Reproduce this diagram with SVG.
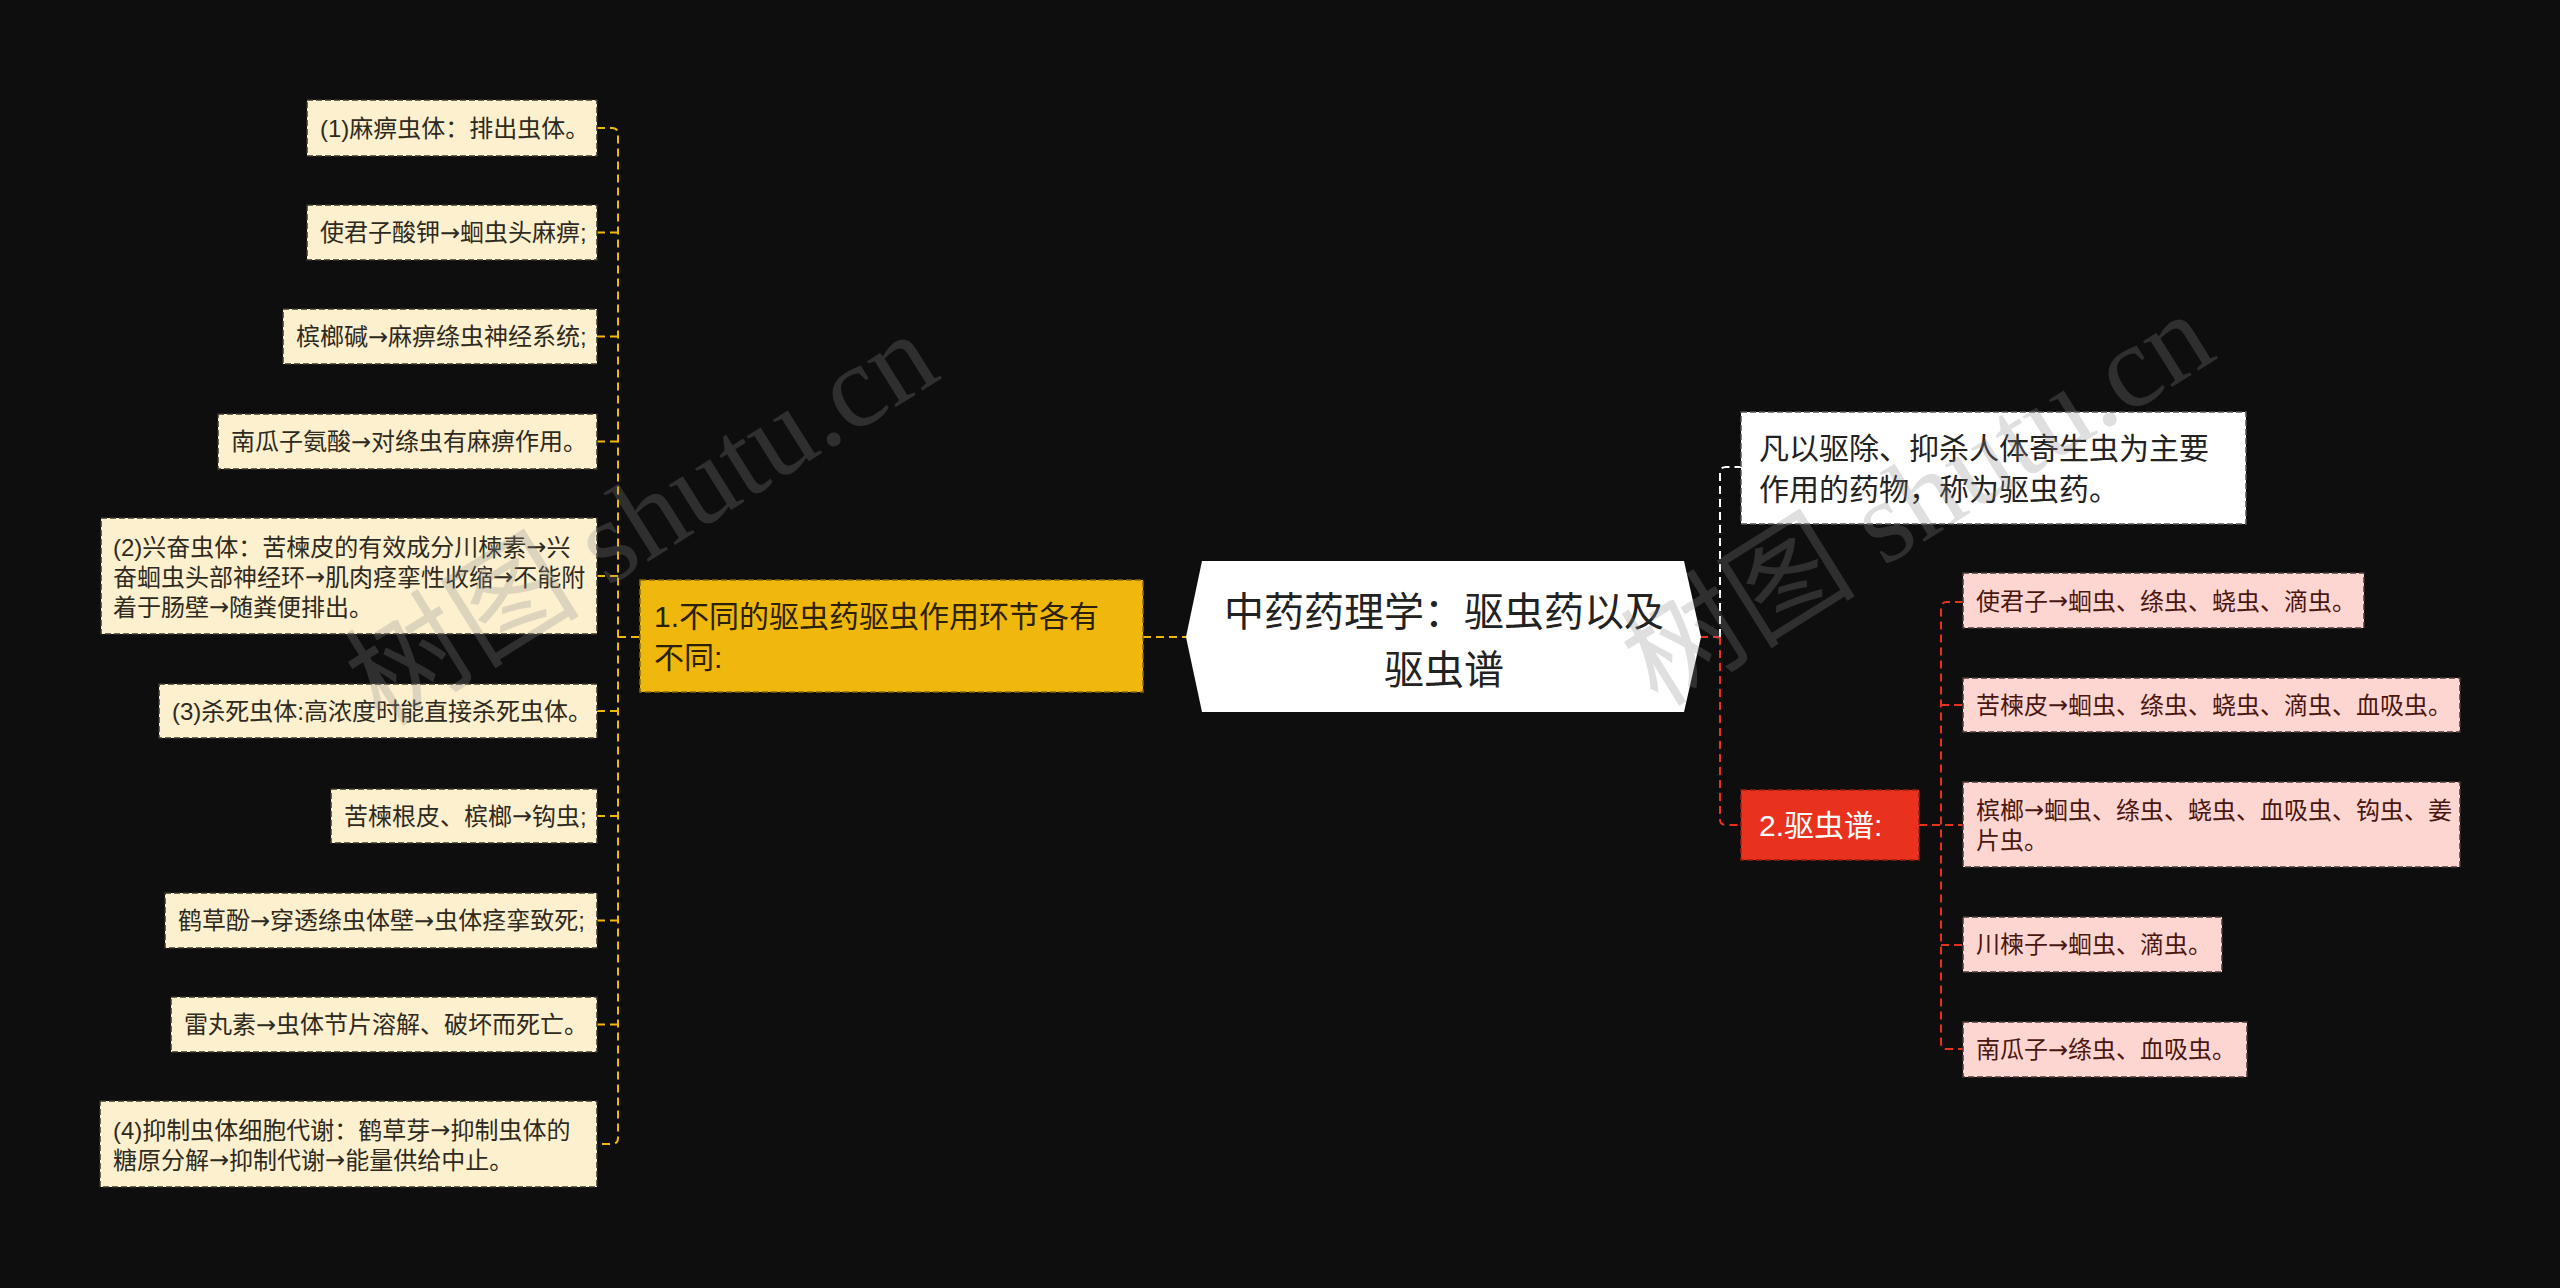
<svg xmlns="http://www.w3.org/2000/svg" width="2560" height="1288" viewBox="0 0 2560 1288">
<style>
.bg{fill:#0e0e0e}
.t{font-family:"Liberation Sans","Noto Sans CJK SC",sans-serif;dominant-baseline:central}
.a{font-family:"DejaVu Sans","Noto Sans CJK SC",sans-serif}
.leafL rect{fill:#fcf0cf;stroke:#3a3529;stroke-width:1.5;stroke-dasharray:6 3}
.leafL text{font-size:24px;fill:#2e2a20}
.leafR rect{fill:#fdd6d2;stroke:#4a3a38;stroke-width:1.5;stroke-dasharray:6 3}
.leafR text{font-size:24px;fill:#4a1610}
.c{fill:none;stroke-width:2;stroke-dasharray:8 5}
.cy{stroke:#f0b80c}
.cw{stroke:#ffffff}
.cr{stroke:#e8321e}
.wm{font-family:"Liberation Serif","Noto Sans CJK SC",serif;font-size:118px;fill:#8a8a8a;opacity:0.27}
</style>
<rect class="bg" x="0" y="0" width="2560" height="1288"/>

<g id="connectors">
  <path class="c cy" d="M597,128 H612 Q618,128 618,134 V1138 Q618,1144 612,1144 H597"/>
  <path class="c cy" d="M597,232.5 H618 M597,336.5 H618 M597,441.5 H618 M597,576 H618 M597,711 H618 M597,816 H618 M597,920.5 H618 M597,1024.5 H618"/>
  <path class="c cy" d="M618,637 H640"/>
  <path class="c cy" d="M1143,637 H1186"/>
  <path class="c cr" d="M1700,637 H1720"/>
  <path class="c cw" d="M1720,637 V473 Q1720,467 1726,467 H1741"/>
  <path class="c cr" d="M1720,637 V819 Q1720,825 1726,825 H1741"/>
  <path class="c cr" d="M1919,825 H1963"/>
  <path class="c cr" d="M1963,602 H1947 Q1941,602 1941,608 V1043 Q1941,1049 1947,1049 H1963"/>
  <path class="c cr" d="M1941,705 H1963 M1941,945 H1963"/>
</g>

<g id="root">
  <polygon points="1202,561 1684,561 1701,637 1684,712 1202,712 1186,637" fill="#ffffff"/>
  <text class="t" x="1444" y="612" text-anchor="middle" font-size="40" fill="#222">中药药理学：驱虫药以及</text>
  <text class="t" x="1444" y="670" text-anchor="middle" font-size="40" fill="#222">驱虫谱</text>
</g>

<g id="branch1">
  <rect x="640" y="580" width="503" height="112" fill="#f0b80c" stroke="#8a6a08" stroke-width="1.5" stroke-dasharray="6 3"/>
  <text class="t" x="654" y="616" font-size="30" fill="#2a2108">1.不同的驱虫药驱虫作用环节各有</text>
  <text class="t" x="654" y="657" font-size="30" fill="#2a2108">不同:</text>
</g>

<g id="L1" class="leafL"><rect x="307" y="100" width="290" height="56"/><text class="t" x="320" y="128">(1)麻痹虫体：排出虫体。</text></g>
<g id="L2" class="leafL"><rect x="307" y="205" width="290" height="55"/><text class="t" x="320" y="232.5">使君子酸钾<tspan class="a">→</tspan>蛔虫头麻痹;</text></g>
<g id="L3" class="leafL"><rect x="283" y="309" width="314" height="55"/><text class="t" x="296" y="336.5">槟榔碱<tspan class="a">→</tspan>麻痹绦虫神经系统;</text></g>
<g id="L4" class="leafL"><rect x="218" y="414" width="379" height="55"/><text class="t" x="231" y="441.5">南瓜子氨酸<tspan class="a">→</tspan>对绦虫有麻痹作用。</text></g>
<g id="L5" class="leafL"><rect x="101" y="518" width="496" height="116"/>
  <text class="t" x="113" y="547">(2)兴奋虫体：苦楝皮的有效成分川楝素<tspan class="a">→</tspan>兴</text>
  <text class="t" x="113" y="577">奋蛔虫头部神经环<tspan class="a">→</tspan>肌肉痉挛性收缩<tspan class="a">→</tspan>不能附</text>
  <text class="t" x="113" y="607">着于肠壁<tspan class="a">→</tspan>随粪便排出。</text></g>
<g id="L6" class="leafL"><rect x="159" y="684" width="438" height="54"/><text class="t" x="172" y="711">(3)杀死虫体:高浓度时能直接杀死虫体。</text></g>
<g id="L7" class="leafL"><rect x="331" y="789" width="266" height="54"/><text class="t" x="344" y="816">苦楝根皮、槟榔<tspan class="a">→</tspan>钩虫;</text></g>
<g id="L8" class="leafL"><rect x="165" y="893" width="432" height="55"/><text class="t" x="178" y="920.5">鹤草酚<tspan class="a">→</tspan>穿透绦虫体壁<tspan class="a">→</tspan>虫体痉挛致死;</text></g>
<g id="L9" class="leafL"><rect x="171" y="997" width="426" height="55"/><text class="t" x="184" y="1024.5">雷丸素<tspan class="a">→</tspan>虫体节片溶解、破坏而死亡。</text></g>
<g id="L10" class="leafL"><rect x="100" y="1101" width="497" height="86"/>
  <text class="t" x="113" y="1130">(4)抑制虫体细胞代谢：鹤草芽<tspan class="a">→</tspan>抑制虫体的</text>
  <text class="t" x="113" y="1160">糖原分解<tspan class="a">→</tspan>抑制代谢<tspan class="a">→</tspan>能量供给中止。</text></g>

<g id="def">
  <rect x="1741" y="412" width="505" height="112" fill="#ffffff" stroke="#555" stroke-width="1.5" stroke-dasharray="6 3"/>
  <text class="t" x="1759" y="448" font-size="30" fill="#222">凡以驱除、抑杀人体寄生虫为主要</text>
  <text class="t" x="1759" y="489" font-size="30" fill="#222">作用的药物，称为驱虫药。</text>
</g>

<g id="branch2">
  <rect x="1741" y="790" width="178" height="70" fill="#e8321e" stroke="#9a1e10" stroke-width="1.5" stroke-dasharray="6 3"/>
  <text class="t" x="1759" y="825" font-size="30" fill="#ffffff">2.驱虫谱:</text>
</g>

<g id="R1" class="leafR"><rect x="1963" y="573" width="401" height="55"/><text class="t" x="1976" y="601">使君子<tspan class="a">→</tspan>蛔虫、绦虫、蛲虫、滴虫。</text></g>
<g id="R2" class="leafR"><rect x="1963" y="678" width="497" height="54"/><text class="t" x="1976" y="705">苦楝皮<tspan class="a">→</tspan>蛔虫、绦虫、蛲虫、滴虫、血吸虫。</text></g>
<g id="R3" class="leafR"><rect x="1963" y="782" width="497" height="85"/>
  <text class="t" x="1976" y="810">槟榔<tspan class="a">→</tspan>蛔虫、绦虫、蛲虫、血吸虫、钩虫、姜</text>
  <text class="t" x="1976" y="840">片虫。</text></g>
<g id="R4" class="leafR"><rect x="1963" y="917" width="259" height="55"/><text class="t" x="1976" y="944.5">川楝子<tspan class="a">→</tspan>蛔虫、滴虫。</text></g>
<g id="R5" class="leafR"><rect x="1963" y="1022" width="284" height="55"/><text class="t" x="1976" y="1049.5">南瓜子<tspan class="a">→</tspan>绦虫、血吸虫。</text></g>

<g id="watermark">
  <text class="wm" transform="translate(382,728) rotate(-32)">树图 shutu.cn</text>
  <text class="wm" transform="translate(1658,708) rotate(-32)">树图 shutu.cn</text>
</g>
</svg>
